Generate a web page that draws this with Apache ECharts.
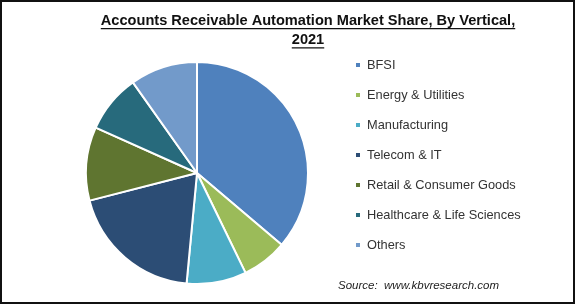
<!DOCTYPE html>
<html>
<head>
<meta charset="utf-8">
<style>
html,body{margin:0;padding:0;background:#fff;}
#frame{position:absolute;left:0;top:0;width:571px;height:300px;border:2px solid #111;}
#chart{position:absolute;left:0;top:0;width:575px;height:304px;}
</style>
<script src="https://cdn.jsdelivr.net/npm/echarts@6/dist/echarts.min.js"></script>
</head>
<body>
<div id="frame"></div>
<div id="chart"></div>
<script>
const categories = ["BFSI", "Energy & Utilities", "Manufacturing", "Telecom & IT", "Retail & Consumer Goods", "Healthcare & Life Sciences", "Others"];
const shares = [36.2, 6.6, 8.7, 19.5, 10.7, 8.5, 9.8];
const colors = ["#4F81BD", "#9BBB59", "#4BACC6", "#2C4D75", "#5F7530", "#276A7C", "#729ACA"];
const titleLine1 = "Accounts Receivable Automation Market Share, By Vertical,";
const titleLine2 = "2021";
const sourceText = "Source:  www.kbvresearch.com";

const font = "'Liberation Sans', Arial, sans-serif";
const titleFont = "bold 14.6px " + font;
const ctx = document.createElement('canvas').getContext('2d');
ctx.font = titleFont;
const w1 = ctx.measureText(titleLine1).width;
const w2 = ctx.measureText(titleLine2).width;
const cx = 308;

const chart = echarts.init(document.getElementById('chart'), null, {renderer: 'canvas'});
chart.setOption({
  animation: false,
  color: colors,
  graphic: [
    {type: 'text', style: {x: cx, y: 21.3, text: titleLine1, font: titleFont, fill: '#111', align: 'center', verticalAlign: 'middle'}},
    {type: 'text', style: {x: cx, y: 40.3, text: titleLine2, font: titleFont, fill: '#111', align: 'center', verticalAlign: 'middle'}},
    {type: 'line', shape: {x1: cx - w1 / 2, y1: 28.7, x2: cx + w1 / 2, y2: 28.7}, style: {stroke: '#111', lineWidth: 1.2}},
    {type: 'line', shape: {x1: cx - w2 / 2, y1: 47.8, x2: cx + w2 / 2, y2: 47.8}, style: {stroke: '#111', lineWidth: 1.2}},
    {type: 'text', left: 338, top: 280, style: {text: sourceText, font: "italic 11.5px " + font, fill: '#222'}}
  ],
  legend: {
    orient: 'vertical',
    left: 349,
    top: 53,
    itemWidth: 6,
    itemHeight: 6,
    itemGap: 16,
    icon: 'rect',
    data: categories,
    textStyle: {fontFamily: font, fontSize: 12.8, color: '#333', lineHeight: 14, padding: [0,0,0,1]}
  },
  series: [{
    type: 'pie',
    center: [197, 173],
    radius: [0, 111],
    startAngle: 90,
    clockwise: true,
    label: {show: false},
    labelLine: {show: false},
    emphasis: {disabled: true},
    itemStyle: {borderColor: '#fff', borderWidth: 2},
    data: categories.map((c, i) => ({name: c, value: shares[i]}))
  }]
});
</script>
</body>
</html>
